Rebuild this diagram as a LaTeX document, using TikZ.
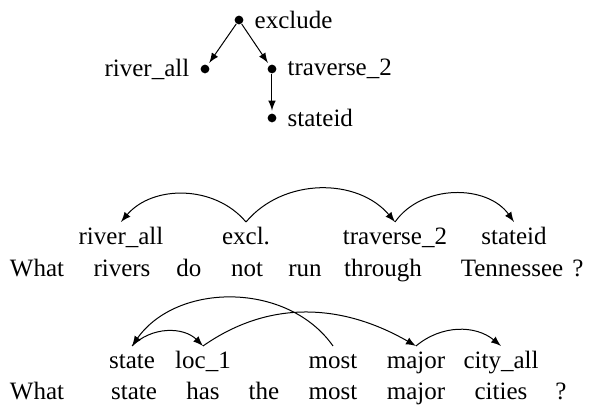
\documentclass[tikz,border=0pt]{standalone}
\usepackage{fontspec}
\setmainfont{Liberation Serif}
\usetikzlibrary{arrows,positioning}

\begin{document}
\begin{tikzpicture}[x=0.4pt,y=-0.4pt,>=latex,node distance=0.8pt,
    dot/.style={circle,fill,inner sep=0pt,minimum size=3.5pt},
    lex/.style={anchor=base,text height=7pt,text depth=2pt,inner sep=2pt},
    word/.style={anchor=base}]
\useasboundingbox (0,0) rectangle (589,405);
% tree
\node[dot] (exc) at (239,20) {};
\node[dot] (riv) at (205,69) {};
\node[dot] (trav) at (272,69) {};
\node[dot] (sid) at (272,118) {};
\node[right=of exc] (excT) {exclude};
\node[left=of riv] (rivT) {river\_all};
\node[right=of trav] (travT) {traverse\_2};
\node[right=of sid] (sidT) {stateid};
\draw[->,shorten >=1pt] (exc) -- (riv);
\draw[->,shorten >=1pt] (exc) -- (trav);
\draw[->,shorten >=1pt] (trav) -- (sid);

% first question
\foreach \w/\x [count=\i] in {What/37,rivers/122,do/189,not/247,run/305,through/383,Tennessee/512,?/578}
    \node[word] (qa\i) at (\x,277) {\w};
\node[lex] (ra) at (121,245) {river\_all};
\node[lex] (ex) at (246,245) {excl.};
\node[lex] (tr) at (395,245) {traverse\_2};
\node[lex] (st) at (514,245) {stateid};
\draw[->] (ex.north) to[bend right=50] (ra.north);
\draw[->] (ex.north) to[bend left=50] (tr.north);
\draw[->] (tr.north) to[bend left=55] (st.north);

% second question
\foreach \w/\x [count=\i] in {What/37,state/134,has/203,the/264,most/333,major/416,cities/501,?/561}
    \node[word] (qb\i) at (\x,400) {\w};
\node[lex] (s) at (132,369) {state};
\node[lex] (l) at (203,369) {loc\_1};
\node[lex] (m) at (333,369) {most};
\node[lex] (mj) at (416,369) {major};
\node[lex] (c) at (501,369) {city\_all};
\draw[->] (m.north) to[out=125,in=55] (s.north);
\draw[->] (s.north) to[bend left=45] (l.north);
\draw[->] (l.north) to[out=35,in=150] (mj.north);
\draw[->] (mj.north) to[bend left=40] (c.north);
\end{tikzpicture}
\end{document}
